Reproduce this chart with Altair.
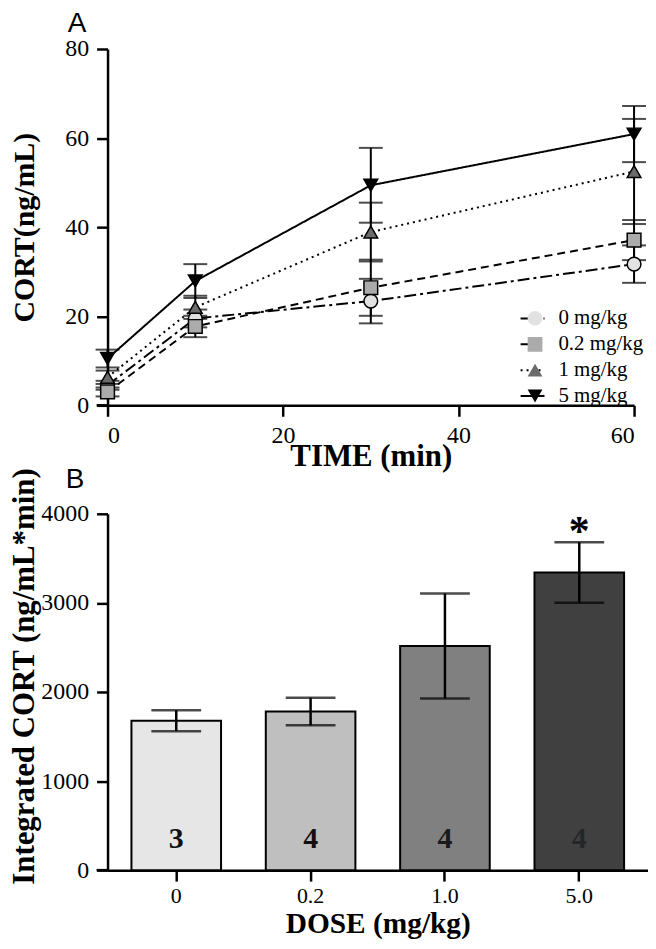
import altair as alt
import pandas as pd

# ---------------- Panel A data ----------------
times = [0, 10, 30, 60]
dose_groups = ["0 mg/kg", "0.2 mg/kg", "1 mg/kg", "5 mg/kg"]
mean_0 = [4.5, 19.5, 23.4, 31.7]
err_0 = [1.0, 2.0, 5.0, 4.2]
mean_02 = [3.0, 17.7, 26.4, 37.1]
err_02 = [1.0, 2.4, 6.3, 4.5]
mean_1 = [6.3, 22.0, 38.9, 52.5]
err_1 = [1.5, 2.6, 6.6, 11.8]
mean_5 = [10.5, 27.9, 49.4, 60.9]
err_5 = [2.0, 3.8, 8.4, 6.3]

# ---------------- Panel B data ----------------
dose_labels = ["0", "0.2", "1.0", "5.0"]
auc_mean = [1677, 1781, 2516, 3341]
auc_err = [117, 155, 590, 340]
n_per_group = ["3", "4", "4", "4"]
sig_mark = ["", "", "", "*"]

panel_letters = ["A", "B"]

# ---------------- styles ----------------
dash_range = [[12, 4, 3, 4], [8, 5], [2, 4], [1, 0]]
shape_range = ["circle", "square", "triangle-up", "triangle-down"]
fill_range = ["#e2e2e2", "#ababab", "#6b6b6b", "#000000"]
bar_fills = ["#e6e6e6", "#bfbfbf", "#808080", "#404040"]
n_colors = ["#111111", "#111111", "#1a1a1a", "#262626"]

SERIF = "Liberation Serif"
SANS = "Liberation Sans"
WA, HA = 529, 358
WB, HB = 543, 358

rows = []
for g, m, e in zip(dose_groups, [mean_0, mean_02, mean_1, mean_5], [err_0, err_02, err_1, err_5]):
    for t, mv, ev in zip(times, m, e):
        rows.append({"time": t, "dose": g, "dose_line": g, "mean": mv,
                     "lo": mv - ev, "hi": mv + ev})
dfa = pd.DataFrame(rows)

lab = dict(labelFont=SERIF, labelFontSize=24, labelColor="black",
           titleFont=SERIF, titleFontWeight="bold", titleColor="black",
           domainColor="black", domainWidth=2.5, tickColor="black", tickWidth=2.5,
           tickSize=11, grid=False)

xA = alt.X("time:Q", scale=alt.Scale(domain=[0, 60], nice=False),
           axis=alt.Axis(values=[0, 20, 40, 60], title="TIME (min)", labelPadding=7,
                         titleFontSize=31, titleY=36, titleBaseline="top", **lab))
yA = alt.Y("mean:Q", scale=alt.Scale(domain=[0, 80], nice=False),
           axis=alt.Axis(values=[0, 20, 40, 60, 80], title="CORT(ng/mL)", labelPadding=8,
                         titleFontSize=30, titleX=-74, titleY=HA / 2, titleAngle=-90,
                         titleAlign="center", titleBaseline="alphabetic", **lab))

baseA = alt.Chart(dfa)

leg_common = dict(orient="none", title=None, clipHeight=25.3, rowPadding=0, padding=0,
                  labelFontSize=21, labelFont=SERIF, labelColor="black")

lines = baseA.mark_line(color="black", strokeWidth=2).encode(
    x=xA, y=yA,
    detail="dose:N",
    strokeDash=alt.StrokeDash(
        "dose_line:N",
        scale=alt.Scale(range=dash_range),
        legend=alt.Legend(legendX=414, legendY=258, symbolType="stroke", symbolSize=576,
                          symbolStrokeWidth=2, symbolStrokeColor="black",
                          labelExpr="''", **leg_common),
    ),
)

err_rule = baseA.mark_rule(color="black", strokeWidth=2).encode(
    x="time:Q", y="lo:Q", y2="hi:Q")
cap_lo = baseA.mark_tick(color="black", thickness=2, size=24, orient="horizontal").encode(
    x="time:Q", y="lo:Q")
cap_hi = baseA.mark_tick(color="black", thickness=2, size=24, orient="horizontal").encode(
    x="time:Q", y="hi:Q")

shape_leg = alt.Legend(legendX=419, legendY=258, symbolSize=220, symbolStrokeWidth=1.5,
                       symbolStrokeColor="black", labelOffset=13, **leg_common)
points = baseA.mark_point(filled=True, size=190, opacity=1, stroke="black",
                          strokeWidth=1.5).encode(
    x="time:Q", y="mean:Q",
    shape=alt.Shape("dose:N", scale=alt.Scale(domain=dose_groups, range=shape_range),
                    legend=shape_leg),
    fill=alt.Fill("dose:N", scale=alt.Scale(domain=dose_groups, range=fill_range),
                  legend=shape_leg),
)

one = pd.DataFrame({"k": [0]})
x_ext_A = alt.Chart(one).mark_rule(color="black", strokeWidth=2.5).encode(
    x=alt.value(-11), x2=alt.value(0), y=alt.value(HA))
letter_A = alt.Chart(pd.DataFrame({"t": [panel_letters[0]]})).mark_text(
    font=SANS, fontSize=28, align="left", baseline="top", color="black"
).encode(text="t:N", x=alt.value(-40), y=alt.value(-39))

panelA = alt.layer(lines, err_rule, cap_lo, cap_hi, points, x_ext_A, letter_A).properties(
    width=WA, height=HA)

# ---------------- Panel B ----------------
dfb = pd.DataFrame({
    "dose": dose_labels,
    "mean": auc_mean,
    "lo": [m - e for m, e in zip(auc_mean, auc_err)],
    "hi": [m + e for m, e in zip(auc_mean, auc_err)],
    "n": n_per_group,
    "sig": sig_mark,
})

xB = alt.X("dose:N", sort=dose_labels,
           scale=alt.Scale(paddingInner=0.333, paddingOuter=0.178),
           axis=alt.Axis(title="DOSE (mg/kg)", labelAngle=0, labelPadding=5,
                         titleFontSize=29.5, titleY=40, titleBaseline="top",
                         **{**lab, "labelFontSize": 22}))
yB = alt.Y("mean:Q", scale=alt.Scale(domain=[0, 4000], nice=False),
           axis=alt.Axis(values=[0, 1000, 2000, 3000, 4000], format="d",
                         title="Integrated CORT (ng/mL*min)", labelPadding=8,
                         titleFontSize=31, titleX=-74, titleY=163, titleAngle=-90,
                         titleAlign="center", titleBaseline="alphabetic", **lab))

baseB = alt.Chart(dfb)
xb_plain = alt.X("dose:N", sort=dose_labels)
bars = baseB.mark_bar(stroke="black", strokeWidth=2).encode(
    x=xB, y=yB,
    fill=alt.Fill("dose:N", scale=alt.Scale(domain=dose_labels, range=bar_fills), legend=None),
)
b_rule = baseB.mark_rule(color="black", strokeWidth=2.5).encode(
    x=xb_plain, y="lo:Q", y2="hi:Q")
b_cap_lo = baseB.mark_tick(color="black", thickness=2.5, size=50, orient="horizontal").encode(
    x=xb_plain, y="lo:Q")
b_cap_hi = baseB.mark_tick(color="black", thickness=2.5, size=50, orient="horizontal").encode(
    x=xb_plain, y="hi:Q")
n_text = baseB.mark_text(font=SERIF, fontSize=30, fontWeight="bold", baseline="middle").encode(
    x=xb_plain, y=alt.datum(350), text="n:N",
    color=alt.Color("dose:N", scale=alt.Scale(domain=dose_labels, range=n_colors), legend=None),
)
star = baseB.mark_text(font=SERIF, fontSize=42, fontWeight="bold", baseline="alphabetic",
                       dy=3, color="black").encode(
    x=xb_plain, y="hi:Q", text="sig:N")
x_ext_B = alt.Chart(one).mark_rule(color="black", strokeWidth=2.5).encode(
    x=alt.value(-11), x2=alt.value(0), y=alt.value(HB))
letter_B = alt.Chart(pd.DataFrame({"t": [panel_letters[1]]})).mark_text(
    font=SANS, fontSize=28, align="left", baseline="alphabetic", color="black"
).encode(text="t:N", x=alt.value(-42), y=alt.value(-26))

panelB = alt.layer(bars, b_rule, b_cap_lo, b_cap_hi, n_text, star, x_ext_B, letter_B).properties(
    width=WB, height=HB)

chart = alt.vconcat(panelA, panelB, spacing=109, bounds="flush").resolve_scale(
    fill="independent", shape="independent", strokeDash="independent", color="independent"
).resolve_legend(
    fill="independent", shape="independent", strokeDash="independent", color="independent"
).properties(
    padding={"left": 0, "top": 0, "right": 0, "bottom": 0}
).configure_view(stroke=None).configure_axis(labelFont=SERIF, titleFont=SERIF)

chart.save("out.html", embed_options={"renderer": "svg", "actions": False})
